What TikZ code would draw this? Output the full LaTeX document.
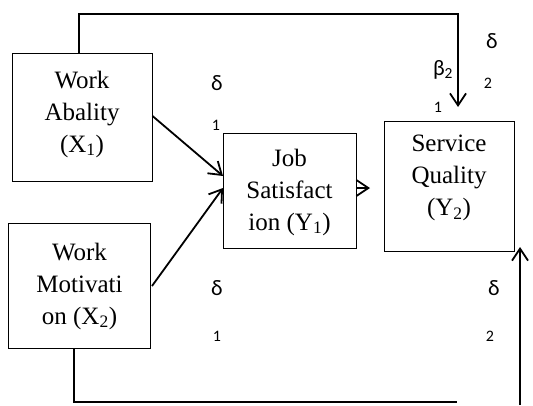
\documentclass[tikz,border=0pt]{standalone}
\usepackage{fontspec}
\setmainfont{Liberation Serif}
\newfontfamily\calfont{Carlito}
\usetikzlibrary{arrows.meta}
\begin{document}
\begin{tikzpicture}[x=1pt,y=-1pt,
  box/.style={draw,line width=1pt,inner sep=0pt},
  boxtext/.style={align=center,font=\fontsize{25}{32}\selectfont,inner sep=0pt},
  conn/.style={line width=1.8pt},
  arr/.style={conn,-{Straight Barb[length=12pt,width=16pt,line width=1.8pt]}},
  delta/.style={font=\calfont\fontsize{22}{22}\selectfont,inner sep=0pt},
  idx/.style={font=\calfont\fontsize{16}{16}\selectfont,inner sep=0pt}]
\useasboundingbox (0,0) rectangle (533,405);
% boxes
\node[box,minimum width=140pt,minimum height=128pt] (x1) at (82,117.5) {};
\node[box,minimum width=142pt,minimum height=125pt] (x2) at (79.5,286) {};
\node[box,minimum width=133pt,minimum height=115pt] (y1) at (289.5,190.5) {};
\node[box,minimum width=130pt,minimum height=130pt] (y2) at (449,186.5) {};
% texts
\node[boxtext] (tx1) at (82,114) {Work\\Abality\\(X\textsubscript{1})};
\node[boxtext] (tx2) at (79.5,286) {Work\\Motivati\\on (X\textsubscript{2})};
\node[boxtext] (ty1) at (289.5,192) {Job\\Satisfact\\ion (Y\textsubscript{1})};
\node[boxtext] (ty2) at (449,178) {Service\\Quality\\(Y\textsubscript{2})};
% connectors
\coordinate (t1) at (79,14);
\coordinate (t2) at (458,14);
\coordinate (tend) at (458,107);
\draw[arr] (x1.north -| t1) -- (t1) -- (t2) -- (tend);
\coordinate (a1) at (223,176);
\coordinate (a2) at (223,188);
\draw[arr] (x1.east |- 0,116) -- (a1);
\draw[arr] (x2.east |- 0,286) ++(1,0) -- (a2);
\coordinate (ye) at (370,188);
\draw[arr] (y1.east |- ye) -- (ye);
\coordinate (b1) at (74,402);
\coordinate (b2) at (457,402);
\draw[conn] (x2.south -| b1) -- (b1) -- (b2);
\coordinate (v1) at (520,405);
\coordinate (v2) at (520,247);
\draw[arr] (v1) -- (v2);
% labels
\node[delta] (d1) at (217,83) {δ};
\node[idx] (i1) at (216,125) {1};
\node[delta] (d2) at (492,41) {δ};
\node[idx] (i2) at (488,83) {2};
\node[delta,font=\calfont\fontsize{22}{22}\selectfont] (b2l) at (443,70) {β\textsubscript{2}};
\node[idx] (i3) at (438,107) {1};
\node[delta] (d3) at (217,288) {δ};
\node[idx] (i4) at (217,336) {1};
\node[delta] (d4) at (494,288) {δ};
\node[idx] (i5) at (490,336) {2};
\end{tikzpicture}
\end{document}
